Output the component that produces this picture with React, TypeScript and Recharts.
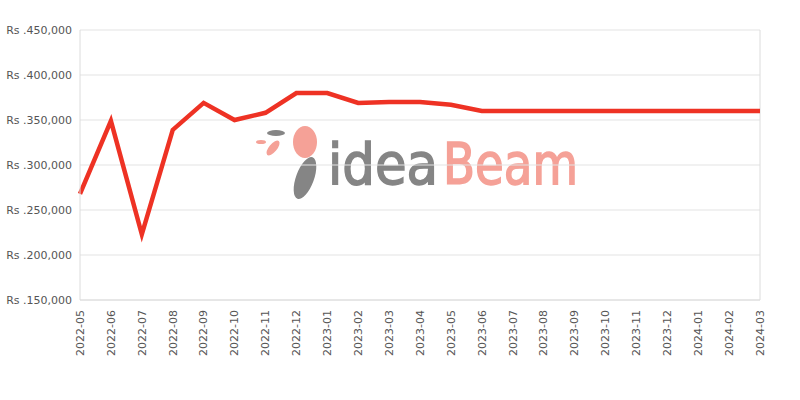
import React from 'react';
import {
  LineChart,
  Line,
  XAxis,
  YAxis,
  CartesianGrid,
  ReferenceLine,
} from 'recharts';

const months = [
  '2022-05', '2022-06', '2022-07', '2022-08', '2022-09', '2022-10', '2022-11',
  '2022-12', '2023-01', '2023-02', '2023-03', '2023-04', '2023-05', '2023-06',
  '2023-07', '2023-08', '2023-09', '2023-10', '2023-11', '2023-12', '2024-01',
  '2024-02', '2024-03',
];

const prices = [
  268000, 349000, 223000, 339000, 369000, 350000, 358000,
  380000, 380000, 369000, 370000, 370000, 367000, 360000,
  360000, 360000, 360000, 360000, 360000, 360000, 360000,
  360000, 360000,
];

const yTicks = [150000, 200000, 250000, 300000, 350000, 400000, 450000];

const data = months.map((m, i) => ({ month: m, price: prices[i] }));

const FONT = '"DejaVu Sans", sans-serif';
const MARK_FONT = '"DejaVu Sans Condensed", "DejaVu Sans", sans-serif';

// rotated month labels, reading bottom-to-top
const MonthTick = (props: any) => {
  const { x, y, payload } = props;
  return (
    <text
      x={x}
      y={y}
      transform={`rotate(-90, ${x}, ${y})`}
      textAnchor="end"
      dy="0.35em"
      fontSize={11}
      fontFamily={FONT}
      fill="#555"
    >
      {payload.value}
    </text>
  );
};

export default function App() {
  return (
    <div style={{ position: 'absolute', left: 0, top: 0, width: 800, height: 400, background: '#fff' }}>
      {/* watermark */}
      <svg
        width={800}
        height={400}
        style={{ position: 'absolute', left: 0, top: 0, pointerEvents: 'none' }}
      >
        <text
          x={328}
          y={184}
          fontSize={57}
          fontFamily={MARK_FONT}
          fill="#858585"
          stroke="#858585"
          strokeWidth={1.5}
          textLength={110}
          lengthAdjust="spacingAndGlyphs"
        >
          idea
        </text>
        <text
          x={443}
          y={184}
          fontSize={57}
          fontFamily={MARK_FONT}
          fill="#f5a197"
          stroke="#f5a197"
          strokeWidth={1.5}
          textLength={135}
          lengthAdjust="spacingAndGlyphs"
        >
          Beam
        </text>
        <ellipse cx={305} cy={142} rx={12} ry={16} fill="#f5a197" />
        <ellipse cx={305} cy={178} rx={9} ry={22} fill="#858585" transform="rotate(20, 305, 178)" />
        <ellipse cx={276} cy={133} rx={9} ry={3} fill="#858585" />
        <ellipse cx={273} cy={148} rx={4} ry={9} fill="#f5a197" transform="rotate(40, 273, 148)" />
        <ellipse cx={261} cy={142} rx={5} ry={2} fill="#f5a197" />
      </svg>
      <LineChart
        width={800}
        height={400}
        data={data}
        margin={{ top: 30, right: 40, bottom: 0, left: 0 }}
        style={{ position: 'absolute', left: 0, top: 0 }}
      >
        <CartesianGrid stroke="#e3e3e3" vertical={false} />
        <XAxis
          dataKey="month"
          interval={0}
          height={100}
          tickLine={false}
          axisLine={{ stroke: '#dcdcdc' }}
          tickMargin={4}
          tick={<MonthTick />}
        />
        <YAxis
          width={80}
          domain={[150000, 450000]}
          ticks={yTicks}
          tickLine={false}
          axisLine={{ stroke: '#dcdcdc' }}
          tickMargin={2}
          tickFormatter={(v: number) => `Rs .${v.toLocaleString('en-US')}`}
          tick={{ fontSize: 11, fill: '#555', fontFamily: FONT }}
        />
        <ReferenceLine x="2024-03" stroke="#dcdcdc" />
        <Line
          type="linear"
          dataKey="price"
          stroke="#ee3224"
          strokeWidth={4.5}
          dot={false}
          isAnimationActive={false}
        />
      </LineChart>
    </div>
  );
}
